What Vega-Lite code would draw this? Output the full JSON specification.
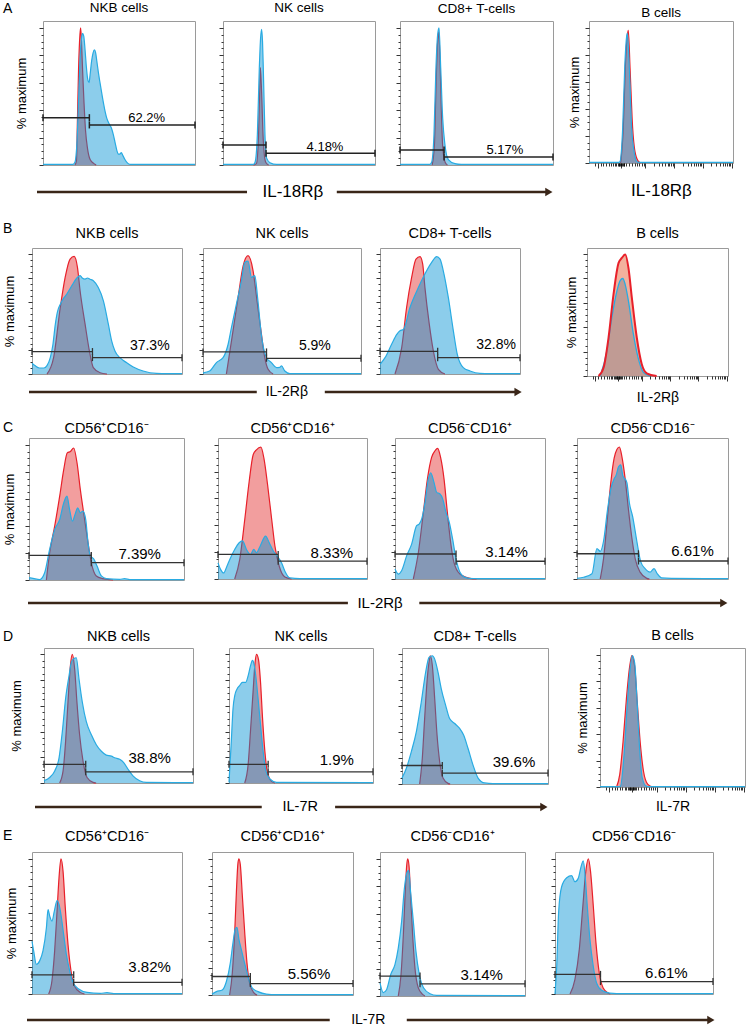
{
"$schema":"https://vega.github.io/schema/vega-lite/v6.json",
"padding":0,
"autosize":{"type":"pad"},
"background":"white",
"params":[
{"name":"xt","value":[4,6,8,10,12,14,15.5,17,18,19,20,20.5,21,21.5,22,22.5,23,23.5,24,24.5,26,28,30,32,33.5,35,36.5,38,39,45,48.5,51,53,54.6,55.9,57.1,58.1,59,65,68.5,71,73,74.6,75.9,77.1,78.1,79,85,88.5,91,93,94.6,95.9,97.1,98.1,99]},
{"name":"yt","value":[0,5,10,15,20,25,30,35,40,45,50,55,60,65,70,75,80,85,90,95,100]}
],
"spacing":0,
"bounds":"flush",
"resolve":{"scale":{"x":"independent","y":"independent"}},
"config":{
"font":"Liberation Sans",
"view":{"stroke":null},
"axis":{"labels":false,"domain":false,"grid":false,"tickColor":"#000","tickWidth":0.8,"titleFont":"Liberation Sans","titleFontWeight":"normal","titleColor":"#000","titleFontSize":13},
"axisX":{"tickSize":{"condition":{"test":"indexof([6,22,39,59,79,99], datum.value) >= 0","value":5},"value":3}},
"axisY":{"tickSize":{"condition":{"test":"datum.value % 20 === 0","value":4},"value":2}},
"title":{"fontWeight":"normal","color":"#000","baseline":"middle","frame":"group","font":"Liberation Sans"},
"text":{"font":"Liberation Sans","color":"#000"}
},
"datasets":{
"A1c":[{"x":21,"y":0},{"x":22,"y":3},{"x":22.6,"y":30},{"x":23.4,"y":70},{"x":24.3,"y":95},{"x":24.8,"y":100},{"x":25.5,"y":85},{"x":26.2,"y":65},{"x":27,"y":45},{"x":28,"y":25},{"x":29.3,"y":12},{"x":31,"y":4},{"x":33.5,"y":1},{"x":35,"y":0}],
"A1s":[{"x":0,"y":0.4},{"x":19.5,"y":0.4},{"x":21,"y":2},{"x":22.5,"y":20},{"x":23.5,"y":50},{"x":24.5,"y":80},{"x":25.3,"y":92},{"x":26,"y":96},{"x":26.8,"y":94},{"x":27.6,"y":85},{"x":28.5,"y":72},{"x":29.5,"y":62},{"x":30.3,"y":60},{"x":31,"y":66},{"x":32,"y":76},{"x":33,"y":82},{"x":33.8,"y":84},{"x":34.6,"y":82},{"x":35.5,"y":75},{"x":36.5,"y":67},{"x":37.5,"y":60},{"x":39,"y":50},{"x":40.5,"y":41},{"x":42,"y":34},{"x":43.5,"y":30},{"x":45,"y":27},{"x":46.3,"y":22},{"x":47.5,"y":16},{"x":48.5,"y":11},{"x":49.5,"y":8},{"x":50.5,"y":8},{"x":51.5,"y":9},{"x":52.5,"y":7},{"x":53.9,"y":4},{"x":55.5,"y":1.5},{"x":57.2,"y":0.4},{"x":100,"y":0.4}],
"A1g":[{"x":0,"x2":30.5,"y":34.5},{"x":30.5,"x2":100,"y":29.2}],
"A1l":[{"x":68.2,"y":34.5,"t":"62.2%"}],
"A2c":[{"x":20,"y":0},{"x":22,"y":1},{"x":23.4,"y":22},{"x":24.2,"y":57},{"x":24.6,"y":71},{"x":25.4,"y":53},{"x":26.5,"y":18},{"x":28.1,"y":2},{"x":30,"y":0}],
"A2s":[{"x":0,"y":0.4},{"x":20,"y":0.4},{"x":21.1,"y":2},{"x":22.6,"y":22},{"x":23.9,"y":71},{"x":24.7,"y":92},{"x":25.4,"y":99},{"x":26,"y":90},{"x":26.5,"y":71},{"x":27.6,"y":22},{"x":28.7,"y":5},{"x":30.9,"y":1.7},{"x":35.3,"y":0.4},{"x":100,"y":0.4}],
"A2g":[{"x":0,"x2":28.3,"y":14.6},{"x":28.3,"x2":100,"y":8.5}],
"A2l":[{"x":67.1,"y":13,"t":"4.18%"}],
"A3c":[{"x":21,"y":0},{"x":22.5,"y":15},{"x":23.6,"y":60},{"x":24.6,"y":90},{"x":25.3,"y":97},{"x":26.2,"y":75},{"x":27,"y":40},{"x":28,"y":12},{"x":29.5,"y":2},{"x":31,"y":0}],
"A3s":[{"x":0,"y":0.4},{"x":19.5,"y":0.4},{"x":20.7,"y":2},{"x":22.2,"y":22},{"x":23.5,"y":71},{"x":24.6,"y":95},{"x":25.5,"y":100},{"x":26.6,"y":71},{"x":27.9,"y":34},{"x":29.4,"y":14.6},{"x":31.6,"y":4},{"x":35.9,"y":1},{"x":40,"y":0.4},{"x":100,"y":0.4}],
"A3g":[{"x":0,"x2":28.8,"y":10.9},{"x":28.8,"x2":100,"y":5.8}],
"A3l":[{"x":68.6,"y":11,"t":"5.17%"}],
"A4c":[{"x":22,"y":0},{"x":23.8,"y":26},{"x":25.2,"y":70.5},{"x":26.6,"y":94},{"x":27.3,"y":98},{"x":28.5,"y":70.5},{"x":30.3,"y":26},{"x":31.9,"y":8.6},{"x":34.3,"y":1.2},{"x":36,"y":0}],
"A4s":[{"x":0,"y":0.4},{"x":20.5,"y":0.4},{"x":21.5,"y":1},{"x":23.4,"y":26},{"x":24.8,"y":70.5},{"x":26.2,"y":94},{"x":26.6,"y":96},{"x":28,"y":70.5},{"x":29.6,"y":26},{"x":31.3,"y":8.6},{"x":33.1,"y":1.2},{"x":35,"y":0.4},{"x":100,"y":0.4}],
"B1c":[{"x":10,"y":0},{"x":14.4,"y":13.6},{"x":18.8,"y":55},{"x":22.1,"y":80.5},{"x":25.4,"y":95.8},{"x":28.1,"y":98},{"x":30.3,"y":88.9},{"x":32.1,"y":69},{"x":35.4,"y":41.5},{"x":38.3,"y":19},{"x":40.9,"y":5.3},{"x":45.4,"y":1},{"x":50,"y":0}],
"B1s":[{"x":0,"y":9},{"x":2,"y":7},{"x":5,"y":5},{"x":8,"y":5},{"x":10,"y":7},{"x":12.2,"y":13.6},{"x":14,"y":25},{"x":15.5,"y":41},{"x":17,"y":52},{"x":18.8,"y":58},{"x":21,"y":63},{"x":23.2,"y":66.6},{"x":26.5,"y":73.5},{"x":29.9,"y":80},{"x":32.1,"y":82},{"x":33.5,"y":80},{"x":35.4,"y":79},{"x":37,"y":80},{"x":38.7,"y":79},{"x":40.9,"y":77.7},{"x":44.2,"y":72},{"x":47.6,"y":61},{"x":50.9,"y":41.5},{"x":53.1,"y":27.6},{"x":55.3,"y":19.2},{"x":58.6,"y":13.6},{"x":63,"y":9.5},{"x":67.5,"y":5.8},{"x":74.1,"y":2.5},{"x":83,"y":0.5},{"x":90,"y":0.3},{"x":100,"y":0.3}],
"B1g":[{"x":0,"x2":40.3,"y":18.7},{"x":40.3,"x2":100,"y":13.6}],
"B1l":[{"x":78.5,"y":23.4,"t":"37.3%"}],
"B2c":[{"x":14.8,"y":0},{"x":19,"y":36},{"x":22.2,"y":63.8},{"x":25.4,"y":90},{"x":28.5,"y":98.6},{"x":31.7,"y":86},{"x":34.2,"y":61},{"x":37,"y":33},{"x":39.1,"y":13.6},{"x":41.2,"y":3.9},{"x":44.4,"y":0}],
"B2s":[{"x":0,"y":1},{"x":4.2,"y":2.5},{"x":8.5,"y":9.5},{"x":12.7,"y":13.6},{"x":15.9,"y":24.8},{"x":18,"y":38.7},{"x":21.1,"y":58},{"x":24.3,"y":77.7},{"x":26.4,"y":93},{"x":28.5,"y":94},{"x":30.7,"y":80.5},{"x":32.8,"y":82},{"x":34.6,"y":63},{"x":37,"y":32},{"x":40.2,"y":13.6},{"x":43.3,"y":9.5},{"x":46.5,"y":5.3},{"x":48.5,"y":5.5},{"x":49.7,"y":6.7},{"x":51.8,"y":2.5},{"x":55,"y":0.3},{"x":100,"y":0.3}],
"B2g":[{"x":0,"x2":40.2,"y":18.4},{"x":40.2,"x2":100,"y":13.1}],
"B2l":[{"x":70.8,"y":23.4,"t":"5.9%"}],
"B3c":[{"x":10.7,"y":0},{"x":15.5,"y":22},{"x":19,"y":55.4},{"x":22.6,"y":80.5},{"x":25.7,"y":95.8},{"x":28.6,"y":97.8},{"x":30.5,"y":91.6},{"x":32.1,"y":72},{"x":35.2,"y":41.5},{"x":38.1,"y":19.2},{"x":41.7,"y":3.9},{"x":46.4,"y":0}],
"B3s":[{"x":0,"y":8},{"x":3.6,"y":13.6},{"x":8.3,"y":24.8},{"x":12,"y":33},{"x":14.3,"y":36},{"x":16.7,"y":37},{"x":21.4,"y":55.4},{"x":27.4,"y":72},{"x":33.3,"y":86},{"x":36.9,"y":93},{"x":40.5,"y":97.8},{"x":42.9,"y":95.8},{"x":45.2,"y":86},{"x":48.8,"y":63.8},{"x":52.4,"y":36},{"x":55.2,"y":16.4},{"x":59.5,"y":5.3},{"x":64.3,"y":2.5},{"x":71.4,"y":0.5},{"x":78.6,"y":0.3},{"x":100,"y":0.3}],
"B3g":[{"x":0,"x2":41.2,"y":18.9},{"x":41.2,"x2":100,"y":13.6}],
"B3l":[{"x":82.9,"y":24,"t":"32.8%"}],
"B4c":[{"x":8.2,"y":0},{"x":11.8,"y":7},{"x":15.3,"y":31.6},{"x":18.8,"y":67},{"x":22.4,"y":92.8},{"x":24.7,"y":96.8},{"x":27.1,"y":99.6},{"x":29.4,"y":88.7},{"x":31.8,"y":64.2},{"x":35.3,"y":31.6},{"x":38.8,"y":9.8},{"x":42.4,"y":2.2},{"x":49.4,"y":0}],
"B4s":[{"x":9.4,"y":0},{"x":14.1,"y":20.7},{"x":17.6,"y":47.9},{"x":21.2,"y":69.6},{"x":23.5,"y":78.3},{"x":25.4,"y":80},{"x":27.1,"y":75},{"x":29.4,"y":61.5},{"x":32.9,"y":34.3},{"x":36.5,"y":13.9},{"x":40,"y":3},{"x":44.7,"y":0}],
"C1c":[{"x":11.2,"y":0},{"x":13.3,"y":20},{"x":16.6,"y":40},{"x":19.8,"y":62},{"x":22.4,"y":81.6},{"x":24.7,"y":94},{"x":26.7,"y":95},{"x":28.8,"y":97.6},{"x":31,"y":86.5},{"x":33.1,"y":67},{"x":35.9,"y":44.7},{"x":38.1,"y":27.5},{"x":40.2,"y":12.8},{"x":43.4,"y":3},{"x":47.7,"y":1},{"x":54.2,"y":0}],
"C1s":[{"x":0,"y":1.7},{"x":2.6,"y":1.2},{"x":6.9,"y":0.3},{"x":10.1,"y":5.4},{"x":13.3,"y":22.6},{"x":16.6,"y":37.4},{"x":19.8,"y":44.7},{"x":22.4,"y":57},{"x":24.5,"y":62},{"x":26.2,"y":52},{"x":28,"y":43.5},{"x":29.7,"y":48.4},{"x":31.4,"y":53.4},{"x":33.1,"y":49.7},{"x":34.8,"y":51},{"x":36.6,"y":44.7},{"x":38.1,"y":27.5},{"x":39.6,"y":17.7},{"x":41.7,"y":15.7},{"x":43.9,"y":10.3},{"x":46.7,"y":3},{"x":49.9,"y":1},{"x":58.5,"y":0.5},{"x":61.7,"y":1},{"x":65,"y":0.3},{"x":100,"y":0.3}],
"C1g":[{"x":0,"x2":40.2,"y":18.2},{"x":40.2,"x2":100,"y":12.8}],
"C1l":[{"x":71.4,"y":19,"t":"7.39%"}],
"C2c":[{"x":11.2,"y":0},{"x":14.6,"y":14.6},{"x":18,"y":44.7},{"x":20.9,"y":72.4},{"x":23.6,"y":92.5},{"x":25.8,"y":96.2},{"x":28.8,"y":98.2},{"x":30.8,"y":90},{"x":33.3,"y":70},{"x":36,"y":44.7},{"x":38.2,"y":24.6},{"x":41.1,"y":9.5},{"x":44.9,"y":1.5},{"x":49.4,"y":0}],
"C2s":[{"x":0,"y":12},{"x":1.8,"y":7},{"x":3.8,"y":4.5},{"x":5.8,"y":9},{"x":7.9,"y":14.6},{"x":11.2,"y":22},{"x":14.2,"y":27},{"x":16.4,"y":28.4},{"x":19.1,"y":22},{"x":21.8,"y":18.3},{"x":24,"y":22},{"x":25.8,"y":19.6},{"x":28.5,"y":25},{"x":31.9,"y":32},{"x":34.4,"y":27},{"x":37.1,"y":20.9},{"x":39.8,"y":17},{"x":42.7,"y":12},{"x":44.9,"y":5.8},{"x":48.3,"y":0.8},{"x":55,"y":0.3},{"x":100,"y":0.3}],
"C2g":[{"x":0,"x2":40.4,"y":18.3},{"x":40.4,"x2":100,"y":13.3}],
"C2l":[{"x":76.4,"y":19.6,"t":"8.33%"}],
"C3c":[{"x":12.2,"y":0},{"x":15.6,"y":19.9},{"x":18.9,"y":49.6},{"x":21.6,"y":74.4},{"x":24.4,"y":90.6},{"x":26.7,"y":95.5},{"x":28.4,"y":97.3},{"x":30.4,"y":90.6},{"x":32.7,"y":74.4},{"x":34.9,"y":49.6},{"x":37.1,"y":27.3},{"x":39.3,"y":12.4},{"x":43.3,"y":3.7},{"x":50,"y":0.5},{"x":54.4,"y":0}],
"C3s":[{"x":0,"y":7.4},{"x":2.2,"y":3.7},{"x":4.4,"y":6.2},{"x":7.8,"y":17.4},{"x":11.1,"y":26},{"x":14.4,"y":39.7},{"x":16.2,"y":41},{"x":17.8,"y":44.7},{"x":20,"y":57},{"x":22.2,"y":74.4},{"x":23.8,"y":79},{"x":26,"y":72},{"x":27.8,"y":64.5},{"x":30,"y":63.3},{"x":31.8,"y":59.6},{"x":34,"y":49.6},{"x":36.2,"y":42.2},{"x":38.4,"y":29.8},{"x":40.7,"y":14.9},{"x":43.3,"y":5},{"x":46.7,"y":1.2},{"x":52.2,"y":0.3},{"x":100,"y":0.3}],
"C3g":[{"x":0,"x2":40.7,"y":18.6},{"x":40.7,"x2":100,"y":13.2}],
"C3l":[{"x":74.4,"y":19.9,"t":"3.14%"}],
"C4c":[{"x":15.4,"y":0},{"x":17.6,"y":15.4},{"x":20.2,"y":46.3},{"x":22.4,"y":72},{"x":24.6,"y":90},{"x":26.4,"y":96.5},{"x":28.1,"y":98.3},{"x":29.7,"y":91.4},{"x":31.9,"y":74.6},{"x":34.1,"y":51.5},{"x":36.3,"y":30.9},{"x":38.5,"y":15.4},{"x":41.8,"y":5.1},{"x":46.2,"y":0.5},{"x":48,"y":0}],
"C4s":[{"x":0,"y":0.5},{"x":4.4,"y":1.3},{"x":9.9,"y":3.9},{"x":13.2,"y":22.6},{"x":15.4,"y":20.6},{"x":17.6,"y":28.3},{"x":20.2,"y":51.5},{"x":22.4,"y":67},{"x":24.6,"y":74.6},{"x":25.9,"y":77.2},{"x":27.5,"y":83.6},{"x":29,"y":85},{"x":30.3,"y":77.2},{"x":33,"y":72},{"x":34.7,"y":56.6},{"x":36.9,"y":46.3},{"x":39.6,"y":28.3},{"x":42.2,"y":12.9},{"x":45.1,"y":7.7},{"x":48.4,"y":5.1},{"x":51,"y":7.7},{"x":53.2,"y":3.9},{"x":56,"y":0.8},{"x":62.6,"y":0.5},{"x":100,"y":0.3}],
"C4g":[{"x":0,"x2":40.7,"y":18.8},{"x":40.7,"x2":100,"y":13.4}],
"C4l":[{"x":76.5,"y":20.6,"t":"6.61%"}],
"D1c":[{"x":10.5,"y":0},{"x":12.8,"y":9.4},{"x":14.5,"y":32.4},{"x":16.1,"y":63},{"x":17.7,"y":91},{"x":19,"y":100},{"x":20.6,"y":88.5},{"x":22.1,"y":63},{"x":23.9,"y":37.5},{"x":26.2,"y":17},{"x":28.9,"y":4.3},{"x":32.9,"y":0.5},{"x":35,"y":0}],
"D1s":[{"x":0,"y":1.8},{"x":3.8,"y":4.3},{"x":7.2,"y":9.4},{"x":10.1,"y":19.6},{"x":12.3,"y":40},{"x":14.5,"y":65.6},{"x":16.8,"y":83.4},{"x":18.3,"y":93.6},{"x":19.9,"y":96.7},{"x":21.7,"y":97.4},{"x":23.5,"y":80.9},{"x":25.7,"y":63},{"x":28.4,"y":47.7},{"x":31.8,"y":37.5},{"x":35.1,"y":29.8},{"x":38.5,"y":24.7},{"x":41.8,"y":21.7},{"x":45.2,"y":20.9},{"x":47.4,"y":19.6},{"x":50.8,"y":18.4},{"x":53.5,"y":15.8},{"x":56.4,"y":10.7},{"x":59.7,"y":5.6},{"x":64.2,"y":1.8},{"x":68.7,"y":0.5},{"x":100,"y":0.3}],
"D1g":[{"x":0,"x2":28,"y":14.5},{"x":28,"x2":100,"y":8.7}],
"D1l":[{"x":70.9,"y":19.6,"t":"38.8%"}],
"D2c":[{"x":10.9,"y":0},{"x":13.3,"y":14.5},{"x":14.9,"y":40},{"x":16.7,"y":70.7},{"x":18.1,"y":93.6},{"x":19.1,"y":100},{"x":20.5,"y":96},{"x":21.9,"y":78.3},{"x":23.3,"y":50.3},{"x":24.9,"y":24.7},{"x":26.7,"y":8.2},{"x":29.5,"y":1.3},{"x":32,"y":0}],
"D2s":[{"x":0,"y":0.5},{"x":1.6,"y":32.4},{"x":2.8,"y":58},{"x":4,"y":68},{"x":5.6,"y":73.2},{"x":7.4,"y":75.8},{"x":9.3,"y":78.3},{"x":11.6,"y":78.3},{"x":13.3,"y":83.4},{"x":14.9,"y":91},{"x":16.3,"y":95.4},{"x":17.4,"y":92.3},{"x":18.6,"y":83.4},{"x":20.2,"y":65.6},{"x":21.9,"y":45.2},{"x":23.7,"y":24.7},{"x":25.6,"y":9.4},{"x":28.4,"y":3.1},{"x":33,"y":0.5},{"x":100,"y":0.3}],
"D2g":[{"x":0,"x2":27.2,"y":14.5},{"x":27.2,"x2":100,"y":8.7}],
"D2l":[{"x":74.9,"y":17.9,"t":"1.9%"}],
"D3c":[{"x":12.1,"y":0},{"x":13.9,"y":19.9},{"x":15.5,"y":50.5},{"x":17.1,"y":78.6},{"x":18.5,"y":93.9},{"x":19.4,"y":99},{"x":20.8,"y":91.3},{"x":22.4,"y":65.8},{"x":24,"y":37.8},{"x":25.8,"y":17.3},{"x":28.1,"y":4.6},{"x":31.5,"y":0.5},{"x":33,"y":0}],
"D3s":[{"x":0,"y":4.6},{"x":3,"y":12.2},{"x":6.4,"y":25},{"x":9.8,"y":40.3},{"x":13.2,"y":63.3},{"x":16.2,"y":86.2},{"x":18.5,"y":97.7},{"x":20.8,"y":99},{"x":22.4,"y":96.4},{"x":24.7,"y":86.2},{"x":26.9,"y":73.5},{"x":29.9,"y":60.7},{"x":32.6,"y":50.5},{"x":36.1,"y":46.7},{"x":39.5,"y":42.9},{"x":42.2,"y":37.8},{"x":45.2,"y":27.6},{"x":48.6,"y":14.8},{"x":52.1,"y":4.6},{"x":56.6,"y":0.8},{"x":62.3,"y":0.3},{"x":100,"y":0.3}],
"D3g":[{"x":0,"x2":27.6,"y":14.3},{"x":27.6,"x2":100,"y":8.4}],
"D3l":[{"x":76.7,"y":17.3,"t":"39.6%"}],
"D4c":[{"x":11.4,"y":0},{"x":13.6,"y":9.4},{"x":15.9,"y":34.2},{"x":18.2,"y":66.5},{"x":20.5,"y":91.3},{"x":22,"y":99.3},{"x":23.9,"y":91.3},{"x":25.7,"y":64},{"x":27.7,"y":34.2},{"x":30,"y":11.9},{"x":33,"y":2},{"x":36.4,"y":0}],
"D4s":[{"x":0,"y":0.3},{"x":13,"y":0.3},{"x":14.1,"y":0.6},{"x":16.4,"y":21.8},{"x":18.6,"y":59},{"x":20.5,"y":86.4},{"x":22.3,"y":99.3},{"x":23.9,"y":93.8},{"x":25.5,"y":66.5},{"x":27.3,"y":29.3},{"x":29.1,"y":7},{"x":31.8,"y":0.7},{"x":34,"y":0.3},{"x":100,"y":0.3}],
"E1c":[{"x":11.1,"y":0},{"x":13.3,"y":9.8},{"x":15.1,"y":31.9},{"x":16.7,"y":61.3},{"x":18,"y":85.8},{"x":19.3,"y":100},{"x":20.7,"y":90.7},{"x":22.2,"y":63.7},{"x":24,"y":36.8},{"x":26,"y":17.2},{"x":28.2,"y":6.1},{"x":32.2,"y":1.2},{"x":35,"y":0}],
"E1s":[{"x":0,"y":39},{"x":1.1,"y":31.9},{"x":2.9,"y":22},{"x":5.1,"y":24.5},{"x":7.3,"y":31.9},{"x":9.6,"y":49},{"x":10.7,"y":62.5},{"x":11.8,"y":57.6},{"x":13.3,"y":53.9},{"x":14.9,"y":61.3},{"x":16.7,"y":69.1},{"x":18,"y":66.2},{"x":19.3,"y":58.8},{"x":21.1,"y":44.1},{"x":22.9,"y":29.4},{"x":25.1,"y":17.2},{"x":27.3,"y":8.6},{"x":31.1,"y":3.7},{"x":36.7,"y":1.2},{"x":45.6,"y":0.5},{"x":50,"y":1},{"x":54.4,"y":0.3},{"x":100,"y":0.3}],
"E1g":[{"x":0,"x2":27.8,"y":14.2},{"x":27.8,"x2":100,"y":8.6}],
"E1l":[{"x":78.4,"y":19.6,"t":"3.82%"}],
"E2c":[{"x":12.5,"y":0},{"x":14.4,"y":16.1},{"x":16.1,"y":45.9},{"x":17.3,"y":75.7},{"x":18.4,"y":96.8},{"x":19.1,"y":100},{"x":20.1,"y":95.5},{"x":21.5,"y":73.2},{"x":23.2,"y":45.9},{"x":24.8,"y":23.6},{"x":26.7,"y":8.7},{"x":29.6,"y":1.7},{"x":32,"y":0}],
"E2s":[{"x":0,"y":0.7},{"x":3.1,"y":2.5},{"x":7.3,"y":3.7},{"x":10.2,"y":9.9},{"x":13,"y":23.6},{"x":14.9,"y":38.5},{"x":16.5,"y":48.4},{"x":17.7,"y":49.6},{"x":19.1,"y":40.9},{"x":20.8,"y":33.5},{"x":22.5,"y":26},{"x":24.3,"y":18.6},{"x":26.2,"y":11.2},{"x":28.6,"y":5},{"x":32.6,"y":2.5},{"x":38.5,"y":0.7},{"x":45.6,"y":0.3},{"x":100,"y":0.3}],
"E2g":[{"x":0,"x2":27.2,"y":13.6},{"x":27.2,"x2":100,"y":8.4}],
"E2l":[{"x":68.8,"y":15.6,"t":"5.56%"}],
"E3c":[{"x":12.6,"y":0},{"x":14.5,"y":15.7},{"x":16.1,"y":44.6},{"x":17.5,"y":78.3},{"x":18.4,"y":95.2},{"x":19.1,"y":100},{"x":20,"y":95.2},{"x":21.1,"y":73.5},{"x":22.5,"y":44.6},{"x":24.1,"y":20.5},{"x":26.4,"y":6},{"x":29.4,"y":1.2},{"x":31,"y":0}],
"E3s":[{"x":0,"y":9.6},{"x":2.3,"y":2.4},{"x":4.6,"y":4.8},{"x":7.4,"y":15.7},{"x":10.3,"y":22.9},{"x":12.6,"y":34.9},{"x":14.9,"y":54.2},{"x":16.8,"y":78.3},{"x":18.4,"y":89.2},{"x":19.8,"y":91.6},{"x":21.1,"y":75.9},{"x":23,"y":54.2},{"x":24.8,"y":32.5},{"x":27.1,"y":15.7},{"x":30,"y":6},{"x":34.5,"y":1.7},{"x":39.1,"y":0.5},{"x":100,"y":0.3}],
"E3g":[{"x":0,"x2":27.6,"y":14.5},{"x":27.6,"x2":100,"y":8.9}],
"E3l":[{"x":70.1,"y":15.2,"t":"3.14%"}],
"E4c":[{"x":9.5,"y":0},{"x":12.6,"y":10.7},{"x":15.4,"y":33.2},{"x":17.5,"y":63.1},{"x":19.6,"y":91.8},{"x":21.1,"y":100},{"x":22.5,"y":90.5},{"x":24.2,"y":65.6},{"x":25.9,"y":38.2},{"x":28,"y":15.7},{"x":30.5,"y":4.5},{"x":33.7,"y":0.7},{"x":35,"y":0}],
"E4s":[{"x":0,"y":0},{"x":1.1,"y":20.7},{"x":2.3,"y":60.6},{"x":4.2,"y":79.3},{"x":7.4,"y":86},{"x":10.5,"y":87.5},{"x":12.6,"y":83},{"x":14.7,"y":85.5},{"x":16.8,"y":95.5},{"x":17.9,"y":98.5},{"x":19.2,"y":85.5},{"x":20.4,"y":65.6},{"x":22.1,"y":40.6},{"x":24.2,"y":20.7},{"x":26.3,"y":8.2},{"x":29.5,"y":2.7},{"x":34.7,"y":0.7},{"x":43.2,"y":0.3},{"x":100,"y":0.3}],
"E4g":[{"x":0,"x2":28.8,"y":14.5},{"x":28.8,"x2":100,"y":9.2}],
"E4l":[{"x":70.5,"y":15.2,"t":"6.61%"}]
},
"vconcat":[
{"width":1,"height":20,"data":{"values":[]},"mark":"point"},
{"hconcat":[
{"width":43,"height":1,"data":{"values":[]},"mark":"point","title":{"text":"A","anchor":"start","fontSize":14,"offset":5,"dx":3}},
{"width":152,"height":144,"view":{"stroke":"#9a9a9a"},"title":{"text":"NKB cells","fontSize":13.5,"offset":6.3},
"encoding":{"x":{"field":"x","type":"quantitative","scale":{"domain":[0,100],"nice":false,"zero":false},"axis":{"values":{"expr":"xt"},"title":null}},"y":{"field":"y","type":"quantitative","scale":{"domain":[0,105],"nice":false},"axis":{"values":{"expr":"yt"},"title":"% maximum","titlePadding":10.5}}},
"layer":[
{"data":{"name":"A1c"},"mark":{"type":"area","color":"#f29e9e","opacity":1,"interpolate":"monotone"}},
{"data":{"name":"A1c"},"mark":{"type":"line","color":"#e8202a","strokeWidth":1.2,"interpolate":"monotone"}},
{"data":{"name":"A1s"},"mark":{"type":"area","color":"#0090d3","opacity":0.45,"interpolate":"monotone"}},
{"data":{"name":"A1s"},"mark":{"type":"line","color":"#29abe2","strokeWidth":1.2,"interpolate":"monotone"}},
{"data":{"name":"A1g"},"mark":{"type":"rule","color":"#222","strokeWidth":1.5},"encoding":{"x2":{"field":"x2"}}},
{"data":{"name":"A1g"},"mark":{"type":"tick","orient":"vertical","color":"#222","size":7,"thickness":1.5,"opacity":1}},
{"data":{"name":"A1g"},"mark":{"type":"tick","orient":"vertical","color":"#222","size":7,"thickness":1.5,"opacity":1},"encoding":{"x":{"field":"x2","type":"quantitative","scale":{"domain":[0,100],"nice":false,"zero":false},"axis":null}}},
{"data":{"name":"A1l"},"mark":{"type":"text","fontSize":13},"encoding":{"text":{"field":"t"}}}
]},
{"width":28,"height":1,"data":{"values":[]},"mark":"point"},
{"width":152,"height":144,"view":{"stroke":"#9a9a9a"},"title":{"text":"NK cells","fontSize":13.5,"offset":6.3},
"encoding":{"x":{"field":"x","type":"quantitative","scale":{"domain":[0,100],"nice":false,"zero":false},"axis":{"values":{"expr":"xt"},"title":null}},"y":{"field":"y","type":"quantitative","scale":{"domain":[0,105],"nice":false},"axis":{"values":{"expr":"yt"},"title":null}}},
"layer":[
{"data":{"name":"A2c"},"mark":{"type":"area","color":"#f29e9e","opacity":1,"interpolate":"monotone"}},
{"data":{"name":"A2c"},"mark":{"type":"line","color":"#e8202a","strokeWidth":1.2,"interpolate":"monotone"}},
{"data":{"name":"A2s"},"mark":{"type":"area","color":"#0090d3","opacity":0.45,"interpolate":"monotone"}},
{"data":{"name":"A2s"},"mark":{"type":"line","color":"#29abe2","strokeWidth":1.2,"interpolate":"monotone"}},
{"data":{"name":"A2g"},"mark":{"type":"rule","color":"#222","strokeWidth":1.5},"encoding":{"x2":{"field":"x2"}}},
{"data":{"name":"A2g"},"mark":{"type":"tick","orient":"vertical","color":"#222","size":7,"thickness":1.5,"opacity":1}},
{"data":{"name":"A2g"},"mark":{"type":"tick","orient":"vertical","color":"#222","size":7,"thickness":1.5,"opacity":1},"encoding":{"x":{"field":"x2","type":"quantitative","scale":{"domain":[0,100],"nice":false,"zero":false},"axis":null}}},
{"data":{"name":"A2l"},"mark":{"type":"text","fontSize":13},"encoding":{"text":{"field":"t"}}}
]},
{"width":25,"height":1,"data":{"values":[]},"mark":"point"},
{"width":153,"height":144,"view":{"stroke":"#9a9a9a"},"title":{"text":"CD8+ T-cells","fontSize":13.5,"offset":6},
"encoding":{"x":{"field":"x","type":"quantitative","scale":{"domain":[0,100],"nice":false,"zero":false},"axis":{"values":{"expr":"xt"},"title":null}},"y":{"field":"y","type":"quantitative","scale":{"domain":[0,105],"nice":false},"axis":{"values":{"expr":"yt"},"title":null}}},
"layer":[
{"data":{"name":"A3c"},"mark":{"type":"area","color":"#f29e9e","opacity":1,"interpolate":"monotone"}},
{"data":{"name":"A3c"},"mark":{"type":"line","color":"#e8202a","strokeWidth":1.2,"interpolate":"monotone"}},
{"data":{"name":"A3s"},"mark":{"type":"area","color":"#0090d3","opacity":0.45,"interpolate":"monotone"}},
{"data":{"name":"A3s"},"mark":{"type":"line","color":"#29abe2","strokeWidth":1.2,"interpolate":"monotone"}},
{"data":{"name":"A3g"},"mark":{"type":"rule","color":"#222","strokeWidth":1.5},"encoding":{"x2":{"field":"x2"}}},
{"data":{"name":"A3g"},"mark":{"type":"tick","orient":"vertical","color":"#222","size":7,"thickness":1.5,"opacity":1}},
{"data":{"name":"A3g"},"mark":{"type":"tick","orient":"vertical","color":"#222","size":7,"thickness":1.5,"opacity":1},"encoding":{"x":{"field":"x2","type":"quantitative","scale":{"domain":[0,100],"nice":false,"zero":false},"axis":null}}},
{"data":{"name":"A3l"},"mark":{"type":"text","fontSize":13},"encoding":{"text":{"field":"t"}}}
]},
{"width":36,"height":1,"data":{"values":[]},"mark":"point"},
{"width":144,"height":142,"view":{"stroke":"#9a9a9a"},"title":{"text":"B cells","fontSize":13.5,"offset":1.8},
"encoding":{"x":{"field":"x","type":"quantitative","scale":{"domain":[0,100],"nice":false,"zero":false},"axis":{"values":{"expr":"xt"},"title":"IL-18Rβ","titleFontSize":17,"titlePadding":14}},"y":{"field":"y","type":"quantitative","scale":{"domain":[0,105],"nice":false},"axis":{"values":{"expr":"yt"},"title":"% maximum","titlePadding":3.5}}},
"layer":[
{"data":{"name":"A4c"},"mark":{"type":"area","color":"#f29e9e","opacity":1,"interpolate":"monotone"}},
{"data":{"name":"A4c"},"mark":{"type":"line","color":"#e8202a","strokeWidth":1.2,"interpolate":"monotone"}},
{"data":{"name":"A4s"},"mark":{"type":"area","color":"#0090d3","opacity":0.45,"interpolate":"monotone"}},
{"data":{"name":"A4s"},"mark":{"type":"line","color":"#29abe2","strokeWidth":1.2,"interpolate":"monotone"}}
]}
],"spacing":0,"bounds":"flush","resolve":{"scale":{"x":"independent","y":"independent"}}},
{"width":1,"height":144,"data":{"values":[]},"mark":"point"},
{"hconcat":[
{"width":37,"height":1,"data":{"values":[]},"mark":"point"},
{"width":516,"height":27,"data":{"values":[{"t":"IL-18Rβ"}]},
"encoding":{"y":{"datum":0,"type":"quantitative","scale":{"domain":[0,1]},"axis":null}},
"layer":[
{"mark":{"type":"rule","color":"#3a2618","strokeWidth":2.5},"encoding":{"x":{"datum":0,"type":"quantitative","scale":{"domain":[0,100],"nice":false},"axis":null},"x2":{"datum":40.7}}},
{"mark":{"type":"rule","color":"#3a2618","strokeWidth":2.5},"encoding":{"x":{"datum":58.1,"type":"quantitative","scale":{"domain":[0,100],"nice":false},"axis":null},"x2":{"datum":98.8}}},
{"mark":{"type":"point","shape":"triangle-right","filled":true,"color":"#3a2618","size":70,"opacity":1},"encoding":{"x":{"datum":99.2,"type":"quantitative","scale":{"domain":[0,100],"nice":false},"axis":null}}},
{"mark":{"type":"text","fontSize":17},"encoding":{"x":{"datum":49.6,"type":"quantitative","scale":{"domain":[0,100],"nice":false},"axis":null},"text":{"field":"t"}}}
]}
],"spacing":0,"bounds":"flush"},
{"width":1,"height":83,"data":{"values":[]},"mark":"point"},
{"hconcat":[
{"width":32,"height":1,"data":{"values":[]},"mark":"point","title":{"text":"B","anchor":"start","fontSize":14,"offset":12,"dx":3}},
{"width":150,"height":126,"view":{"stroke":"#9a9a9a"},"title":{"text":"NKB cells","fontSize":14.5,"offset":6.8},
"encoding":{"x":{"field":"x","type":"quantitative","scale":{"domain":[0,100],"nice":false,"zero":false},"axis":{"values":{"expr":"xt"},"title":null}},"y":{"field":"y","type":"quantitative","scale":{"domain":[0,105],"nice":false},"axis":{"values":{"expr":"yt"},"title":"% maximum","titlePadding":11.5}}},
"layer":[
{"data":{"name":"B1c"},"mark":{"type":"area","color":"#f29e9e","opacity":1,"interpolate":"monotone"}},
{"data":{"name":"B1c"},"mark":{"type":"line","color":"#e8202a","strokeWidth":1.2,"interpolate":"monotone"}},
{"data":{"name":"B1s"},"mark":{"type":"area","color":"#0090d3","opacity":0.45,"interpolate":"monotone"}},
{"data":{"name":"B1s"},"mark":{"type":"line","color":"#29abe2","strokeWidth":1.2,"interpolate":"monotone"}},
{"data":{"name":"B1g"},"mark":{"type":"rule","color":"#333","strokeWidth":1.3},"encoding":{"x2":{"field":"x2"}}},
{"data":{"name":"B1g"},"mark":{"type":"tick","orient":"vertical","color":"#333","size":7,"thickness":1.3,"opacity":1}},
{"data":{"name":"B1g"},"mark":{"type":"tick","orient":"vertical","color":"#333","size":7,"thickness":1.3,"opacity":1},"encoding":{"x":{"field":"x2","type":"quantitative","scale":{"domain":[0,100],"nice":false,"zero":false},"axis":null}}},
{"data":{"name":"B1l"},"mark":{"type":"text","fontSize":14},"encoding":{"text":{"field":"t"}}}
]},
{"width":21,"height":1,"data":{"values":[]},"mark":"point"},
{"width":158,"height":126,"view":{"stroke":"#9a9a9a"},"title":{"text":"NK cells","fontSize":14.5,"offset":6.8},
"encoding":{"x":{"field":"x","type":"quantitative","scale":{"domain":[0,100],"nice":false,"zero":false},"axis":{"values":{"expr":"xt"},"title":null}},"y":{"field":"y","type":"quantitative","scale":{"domain":[0,105],"nice":false},"axis":{"values":{"expr":"yt"},"title":null}}},
"layer":[
{"data":{"name":"B2c"},"mark":{"type":"area","color":"#f29e9e","opacity":1,"interpolate":"monotone"}},
{"data":{"name":"B2c"},"mark":{"type":"line","color":"#e8202a","strokeWidth":1.2,"interpolate":"monotone"}},
{"data":{"name":"B2s"},"mark":{"type":"area","color":"#0090d3","opacity":0.45,"interpolate":"monotone"}},
{"data":{"name":"B2s"},"mark":{"type":"line","color":"#29abe2","strokeWidth":1.2,"interpolate":"monotone"}},
{"data":{"name":"B2g"},"mark":{"type":"rule","color":"#333","strokeWidth":1.3},"encoding":{"x2":{"field":"x2"}}},
{"data":{"name":"B2g"},"mark":{"type":"tick","orient":"vertical","color":"#333","size":7,"thickness":1.3,"opacity":1}},
{"data":{"name":"B2g"},"mark":{"type":"tick","orient":"vertical","color":"#333","size":7,"thickness":1.3,"opacity":1},"encoding":{"x":{"field":"x2","type":"quantitative","scale":{"domain":[0,100],"nice":false,"zero":false},"axis":null}}},
{"data":{"name":"B2l"},"mark":{"type":"text","fontSize":14},"encoding":{"text":{"field":"t"}}}
]},
{"width":19,"height":1,"data":{"values":[]},"mark":"point"},
{"width":140,"height":126,"view":{"stroke":"#9a9a9a"},"title":{"text":"CD8+ T-cells","fontSize":14.5,"offset":6.8},
"encoding":{"x":{"field":"x","type":"quantitative","scale":{"domain":[0,100],"nice":false,"zero":false},"axis":{"values":{"expr":"xt"},"title":null}},"y":{"field":"y","type":"quantitative","scale":{"domain":[0,105],"nice":false},"axis":{"values":{"expr":"yt"},"title":null}}},
"layer":[
{"data":{"name":"B3c"},"mark":{"type":"area","color":"#f29e9e","opacity":1,"interpolate":"monotone"}},
{"data":{"name":"B3c"},"mark":{"type":"line","color":"#e8202a","strokeWidth":1.2,"interpolate":"monotone"}},
{"data":{"name":"B3s"},"mark":{"type":"area","color":"#0090d3","opacity":0.45,"interpolate":"monotone"}},
{"data":{"name":"B3s"},"mark":{"type":"line","color":"#29abe2","strokeWidth":1.2,"interpolate":"monotone"}},
{"data":{"name":"B3g"},"mark":{"type":"rule","color":"#333","strokeWidth":1.3},"encoding":{"x2":{"field":"x2"}}},
{"data":{"name":"B3g"},"mark":{"type":"tick","orient":"vertical","color":"#333","size":7,"thickness":1.3,"opacity":1}},
{"data":{"name":"B3g"},"mark":{"type":"tick","orient":"vertical","color":"#333","size":7,"thickness":1.3,"opacity":1},"encoding":{"x":{"field":"x2","type":"quantitative","scale":{"domain":[0,100],"nice":false,"zero":false},"axis":null}}},
{"data":{"name":"B3l"},"mark":{"type":"text","fontSize":14},"encoding":{"text":{"field":"t"}}}
]},
{"width":67,"height":1,"data":{"values":[]},"mark":"point"},
{"width":141,"height":128,"view":{"stroke":"#9a9a9a"},"title":{"text":"B cells","fontSize":14.5,"offset":6.8},
"encoding":{"x":{"field":"x","type":"quantitative","scale":{"domain":[0,100],"nice":false,"zero":false},"axis":{"values":{"expr":"xt"},"title":"IL-2Rβ","titleFontSize":14,"titlePadding":9}},"y":{"field":"y","type":"quantitative","scale":{"domain":[0,105],"nice":false},"axis":{"values":{"expr":"yt"},"title":"% maximum","titlePadding":4.5}}},
"layer":[
{"data":{"name":"B4s"},"mark":{"type":"area","color":"#0090d3","opacity":0.4,"interpolate":"monotone"}},
{"data":{"name":"B4c"},"mark":{"type":"area","color":"#e8643c","opacity":0.5,"interpolate":"monotone"}},
{"data":{"name":"B4s"},"mark":{"type":"line","color":"#29abe2","strokeWidth":1.3,"interpolate":"monotone"}},
{"data":{"name":"B4c"},"mark":{"type":"line","color":"#e8202a","strokeWidth":2,"interpolate":"monotone"}}
]}
],"spacing":0,"bounds":"flush","resolve":{"scale":{"x":"independent","y":"independent"}}},
{"width":1,"height":128,"data":{"values":[]},"mark":"point"},
{"hconcat":[
{"width":29,"height":1,"data":{"values":[]},"mark":"point"},
{"width":493,"height":16,"data":{"values":[{"t":"IL-2Rβ"}]},
"encoding":{"y":{"datum":0,"type":"quantitative","scale":{"domain":[0,1]},"axis":null}},
"layer":[
{"mark":{"type":"rule","color":"#3a2618","strokeWidth":2.5},"encoding":{"x":{"datum":0,"type":"quantitative","scale":{"domain":[0,100],"nice":false},"axis":null},"x2":{"datum":46.2}}},
{"mark":{"type":"rule","color":"#3a2618","strokeWidth":2.5},"encoding":{"x":{"datum":60,"type":"quantitative","scale":{"domain":[0,100],"nice":false},"axis":null},"x2":{"datum":98.8}}},
{"mark":{"type":"point","shape":"triangle-right","filled":true,"color":"#3a2618","size":70,"opacity":1},"encoding":{"x":{"datum":99.2,"type":"quantitative","scale":{"domain":[0,100],"nice":false},"axis":null}}},
{"mark":{"type":"text","fontSize":14},"encoding":{"x":{"datum":52.3,"type":"quantitative","scale":{"domain":[0,100],"nice":false},"axis":null},"text":{"field":"t"}}}
]}
],"spacing":0,"bounds":"flush"},
{"width":1,"height":62,"data":{"values":[]},"mark":"point"},
{"hconcat":[
{"width":29,"height":1,"data":{"values":[]},"mark":"point","title":{"text":"C","anchor":"start","fontSize":14,"offset":3,"dx":3}},
{"width":155,"height":142,"view":{"stroke":"#9a9a9a"},"title":{"text":"CD56⁺CD16⁻","fontSize":14.5,"offset":1.8},
"encoding":{"x":{"field":"x","type":"quantitative","scale":{"domain":[0,100],"nice":false,"zero":false},"axis":{"values":{"expr":"xt"},"title":null}},"y":{"field":"y","type":"quantitative","scale":{"domain":[0,105],"nice":false},"axis":{"values":{"expr":"yt"},"title":"% maximum","titlePadding":8.5}}},
"layer":[
{"data":{"name":"C1c"},"mark":{"type":"area","color":"#f29e9e","opacity":1,"interpolate":"monotone"}},
{"data":{"name":"C1c"},"mark":{"type":"line","color":"#e8202a","strokeWidth":1.2,"interpolate":"monotone"}},
{"data":{"name":"C1s"},"mark":{"type":"area","color":"#0090d3","opacity":0.45,"interpolate":"monotone"}},
{"data":{"name":"C1s"},"mark":{"type":"line","color":"#29abe2","strokeWidth":1.2,"interpolate":"monotone"}},
{"data":{"name":"C1g"},"mark":{"type":"rule","color":"#333","strokeWidth":1.3},"encoding":{"x2":{"field":"x2"}}},
{"data":{"name":"C1g"},"mark":{"type":"tick","orient":"vertical","color":"#333","size":7,"thickness":1.3,"opacity":1}},
{"data":{"name":"C1g"},"mark":{"type":"tick","orient":"vertical","color":"#333","size":7,"thickness":1.3,"opacity":1},"encoding":{"x":{"field":"x2","type":"quantitative","scale":{"domain":[0,100],"nice":false,"zero":false},"axis":null}}},
{"data":{"name":"C1l"},"mark":{"type":"text","fontSize":15},"encoding":{"text":{"field":"t"}}}
]},
{"width":34,"height":1,"data":{"values":[]},"mark":"point"},
{"width":149,"height":141,"view":{"stroke":"#9a9a9a"},"title":{"text":"CD56⁺CD16⁺","fontSize":14.5,"offset":1.8},
"encoding":{"x":{"field":"x","type":"quantitative","scale":{"domain":[0,100],"nice":false,"zero":false},"axis":{"values":{"expr":"xt"},"title":null}},"y":{"field":"y","type":"quantitative","scale":{"domain":[0,105],"nice":false},"axis":{"values":{"expr":"yt"},"title":null}}},
"layer":[
{"data":{"name":"C2c"},"mark":{"type":"area","color":"#f29e9e","opacity":1,"interpolate":"monotone"}},
{"data":{"name":"C2c"},"mark":{"type":"line","color":"#e8202a","strokeWidth":1.2,"interpolate":"monotone"}},
{"data":{"name":"C2s"},"mark":{"type":"area","color":"#0090d3","opacity":0.45,"interpolate":"monotone"}},
{"data":{"name":"C2s"},"mark":{"type":"line","color":"#29abe2","strokeWidth":1.2,"interpolate":"monotone"}},
{"data":{"name":"C2g"},"mark":{"type":"rule","color":"#333","strokeWidth":1.3},"encoding":{"x2":{"field":"x2"}}},
{"data":{"name":"C2g"},"mark":{"type":"tick","orient":"vertical","color":"#333","size":7,"thickness":1.3,"opacity":1}},
{"data":{"name":"C2g"},"mark":{"type":"tick","orient":"vertical","color":"#333","size":7,"thickness":1.3,"opacity":1},"encoding":{"x":{"field":"x2","type":"quantitative","scale":{"domain":[0,100],"nice":false,"zero":false},"axis":null}}},
{"data":{"name":"C2l"},"mark":{"type":"text","fontSize":15},"encoding":{"text":{"field":"t"}}}
]},
{"width":28,"height":1,"data":{"values":[]},"mark":"point"},
{"width":150,"height":141,"view":{"stroke":"#9a9a9a"},"title":{"text":"CD56⁻CD16⁺","fontSize":14.5,"offset":1.8},
"encoding":{"x":{"field":"x","type":"quantitative","scale":{"domain":[0,100],"nice":false,"zero":false},"axis":{"values":{"expr":"xt"},"title":null}},"y":{"field":"y","type":"quantitative","scale":{"domain":[0,105],"nice":false},"axis":{"values":{"expr":"yt"},"title":null}}},
"layer":[
{"data":{"name":"C3c"},"mark":{"type":"area","color":"#f29e9e","opacity":1,"interpolate":"monotone"}},
{"data":{"name":"C3c"},"mark":{"type":"line","color":"#e8202a","strokeWidth":1.2,"interpolate":"monotone"}},
{"data":{"name":"C3s"},"mark":{"type":"area","color":"#0090d3","opacity":0.45,"interpolate":"monotone"}},
{"data":{"name":"C3s"},"mark":{"type":"line","color":"#29abe2","strokeWidth":1.2,"interpolate":"monotone"}},
{"data":{"name":"C3g"},"mark":{"type":"rule","color":"#333","strokeWidth":1.3},"encoding":{"x2":{"field":"x2"}}},
{"data":{"name":"C3g"},"mark":{"type":"tick","orient":"vertical","color":"#333","size":7,"thickness":1.3,"opacity":1}},
{"data":{"name":"C3g"},"mark":{"type":"tick","orient":"vertical","color":"#333","size":7,"thickness":1.3,"opacity":1},"encoding":{"x":{"field":"x2","type":"quantitative","scale":{"domain":[0,100],"nice":false,"zero":false},"axis":null}}},
{"data":{"name":"C3l"},"mark":{"type":"text","fontSize":15},"encoding":{"text":{"field":"t"}}}
]},
{"width":32,"height":1,"data":{"values":[]},"mark":"point"},
{"width":151,"height":141,"view":{"stroke":"#9a9a9a"},"title":{"text":"CD56⁻CD16⁻","fontSize":14.5,"offset":1.8},
"encoding":{"x":{"field":"x","type":"quantitative","scale":{"domain":[0,100],"nice":false,"zero":false},"axis":{"values":{"expr":"xt"},"title":null}},"y":{"field":"y","type":"quantitative","scale":{"domain":[0,105],"nice":false},"axis":{"values":{"expr":"yt"},"title":null}}},
"layer":[
{"data":{"name":"C4c"},"mark":{"type":"area","color":"#f29e9e","opacity":1,"interpolate":"monotone"}},
{"data":{"name":"C4c"},"mark":{"type":"line","color":"#e8202a","strokeWidth":1.2,"interpolate":"monotone"}},
{"data":{"name":"C4s"},"mark":{"type":"area","color":"#0090d3","opacity":0.45,"interpolate":"monotone"}},
{"data":{"name":"C4s"},"mark":{"type":"line","color":"#29abe2","strokeWidth":1.2,"interpolate":"monotone"}},
{"data":{"name":"C4g"},"mark":{"type":"rule","color":"#333","strokeWidth":1.3},"encoding":{"x2":{"field":"x2"}}},
{"data":{"name":"C4g"},"mark":{"type":"tick","orient":"vertical","color":"#333","size":7,"thickness":1.3,"opacity":1}},
{"data":{"name":"C4g"},"mark":{"type":"tick","orient":"vertical","color":"#333","size":7,"thickness":1.3,"opacity":1},"encoding":{"x":{"field":"x2","type":"quantitative","scale":{"domain":[0,100],"nice":false,"zero":false},"axis":null}}},
{"data":{"name":"C4l"},"mark":{"type":"text","fontSize":15},"encoding":{"text":{"field":"t"}}}
]}
],"spacing":0,"bounds":"flush","resolve":{"scale":{"x":"independent","y":"independent"}}},
{"width":1,"height":142,"data":{"values":[]},"mark":"point"},
{"hconcat":[
{"width":28,"height":1,"data":{"values":[]},"mark":"point"},
{"width":700,"height":23,"data":{"values":[{"t":"IL-2Rβ"}]},
"encoding":{"y":{"datum":0,"type":"quantitative","scale":{"domain":[0,1]},"axis":null}},
"layer":[
{"mark":{"type":"rule","color":"#3a2618","strokeWidth":2.5},"encoding":{"x":{"datum":0,"type":"quantitative","scale":{"domain":[0,100],"nice":false},"axis":null},"x2":{"datum":45.7}}},
{"mark":{"type":"rule","color":"#3a2618","strokeWidth":2.5},"encoding":{"x":{"datum":55.9,"type":"quantitative","scale":{"domain":[0,100],"nice":false},"axis":null},"x2":{"datum":99.1}}},
{"mark":{"type":"point","shape":"triangle-right","filled":true,"color":"#3a2618","size":70,"opacity":1},"encoding":{"x":{"datum":99.4,"type":"quantitative","scale":{"domain":[0,100],"nice":false},"axis":null}}},
{"mark":{"type":"text","fontSize":15},"encoding":{"x":{"datum":50.3,"type":"quantitative","scale":{"domain":[0,100],"nice":false},"axis":null},"text":{"field":"t"}}}
]}
],"spacing":0,"bounds":"flush"},
{"width":1,"height":68,"data":{"values":[]},"mark":"point"},
{"hconcat":[
{"width":44,"height":1,"data":{"values":[]},"mark":"point","title":{"text":"D","anchor":"start","fontSize":14,"offset":4,"dx":3}},
{"width":149,"height":135,"view":{"stroke":"#9a9a9a"},"title":{"text":"NKB cells","fontSize":14.5,"offset":3.8},
"encoding":{"x":{"field":"x","type":"quantitative","scale":{"domain":[0,100],"nice":false,"zero":false},"axis":{"values":{"expr":"xt"},"title":null}},"y":{"field":"y","type":"quantitative","scale":{"domain":[0,105],"nice":false},"axis":{"values":{"expr":"yt"},"title":"% maximum","titlePadding":16.5}}},
"layer":[
{"data":{"name":"D1c"},"mark":{"type":"area","color":"#f29e9e","opacity":1,"interpolate":"monotone"}},
{"data":{"name":"D1c"},"mark":{"type":"line","color":"#e8202a","strokeWidth":1.2,"interpolate":"monotone"}},
{"data":{"name":"D1s"},"mark":{"type":"area","color":"#0090d3","opacity":0.45,"interpolate":"monotone"}},
{"data":{"name":"D1s"},"mark":{"type":"line","color":"#29abe2","strokeWidth":1.2,"interpolate":"monotone"}},
{"data":{"name":"D1g"},"mark":{"type":"rule","color":"#333","strokeWidth":1.3},"encoding":{"x2":{"field":"x2"}}},
{"data":{"name":"D1g"},"mark":{"type":"tick","orient":"vertical","color":"#333","size":7,"thickness":1.3,"opacity":1}},
{"data":{"name":"D1g"},"mark":{"type":"tick","orient":"vertical","color":"#333","size":7,"thickness":1.3,"opacity":1},"encoding":{"x":{"field":"x2","type":"quantitative","scale":{"domain":[0,100],"nice":false,"zero":false},"axis":null}}},
{"data":{"name":"D1l"},"mark":{"type":"text","fontSize":15},"encoding":{"text":{"field":"t"}}}
]},
{"width":36,"height":1,"data":{"values":[]},"mark":"point"},
{"width":144,"height":135,"view":{"stroke":"#9a9a9a"},"title":{"text":"NK cells","fontSize":14.5,"offset":3.8},
"encoding":{"x":{"field":"x","type":"quantitative","scale":{"domain":[0,100],"nice":false,"zero":false},"axis":{"values":{"expr":"xt"},"title":null}},"y":{"field":"y","type":"quantitative","scale":{"domain":[0,105],"nice":false},"axis":{"values":{"expr":"yt"},"title":null}}},
"layer":[
{"data":{"name":"D2c"},"mark":{"type":"area","color":"#f29e9e","opacity":1,"interpolate":"monotone"}},
{"data":{"name":"D2c"},"mark":{"type":"line","color":"#e8202a","strokeWidth":1.2,"interpolate":"monotone"}},
{"data":{"name":"D2s"},"mark":{"type":"area","color":"#0090d3","opacity":0.45,"interpolate":"monotone"}},
{"data":{"name":"D2s"},"mark":{"type":"line","color":"#29abe2","strokeWidth":1.2,"interpolate":"monotone"}},
{"data":{"name":"D2g"},"mark":{"type":"rule","color":"#333","strokeWidth":1.3},"encoding":{"x2":{"field":"x2"}}},
{"data":{"name":"D2g"},"mark":{"type":"tick","orient":"vertical","color":"#333","size":7,"thickness":1.3,"opacity":1}},
{"data":{"name":"D2g"},"mark":{"type":"tick","orient":"vertical","color":"#333","size":7,"thickness":1.3,"opacity":1},"encoding":{"x":{"field":"x2","type":"quantitative","scale":{"domain":[0,100],"nice":false,"zero":false},"axis":null}}},
{"data":{"name":"D2l"},"mark":{"type":"text","fontSize":15},"encoding":{"text":{"field":"t"}}}
]},
{"width":29,"height":1,"data":{"values":[]},"mark":"point"},
{"width":146,"height":136,"view":{"stroke":"#9a9a9a"},"title":{"text":"CD8+ T-cells","fontSize":14.5,"offset":3.8},
"encoding":{"x":{"field":"x","type":"quantitative","scale":{"domain":[0,100],"nice":false,"zero":false},"axis":{"values":{"expr":"xt"},"title":null}},"y":{"field":"y","type":"quantitative","scale":{"domain":[0,105],"nice":false},"axis":{"values":{"expr":"yt"},"title":null}}},
"layer":[
{"data":{"name":"D3c"},"mark":{"type":"area","color":"#f29e9e","opacity":1,"interpolate":"monotone"}},
{"data":{"name":"D3c"},"mark":{"type":"line","color":"#e8202a","strokeWidth":1.2,"interpolate":"monotone"}},
{"data":{"name":"D3s"},"mark":{"type":"area","color":"#0090d3","opacity":0.45,"interpolate":"monotone"}},
{"data":{"name":"D3s"},"mark":{"type":"line","color":"#29abe2","strokeWidth":1.2,"interpolate":"monotone"}},
{"data":{"name":"D3g"},"mark":{"type":"rule","color":"#333","strokeWidth":1.3},"encoding":{"x2":{"field":"x2"}}},
{"data":{"name":"D3g"},"mark":{"type":"tick","orient":"vertical","color":"#333","size":7,"thickness":1.3,"opacity":1}},
{"data":{"name":"D3g"},"mark":{"type":"tick","orient":"vertical","color":"#333","size":7,"thickness":1.3,"opacity":1},"encoding":{"x":{"field":"x2","type":"quantitative","scale":{"domain":[0,100],"nice":false,"zero":false},"axis":null}}},
{"data":{"name":"D3l"},"mark":{"type":"text","fontSize":15},"encoding":{"text":{"field":"t"}}}
]},
{"width":52,"height":1,"data":{"values":[]},"mark":"point"},
{"width":145,"height":139,"view":{"stroke":"#9a9a9a"},"title":{"text":"B cells","fontSize":14.5,"offset":4.8},
"encoding":{"x":{"field":"x","type":"quantitative","scale":{"domain":[0,100],"nice":false,"zero":false},"axis":{"values":{"expr":"xt"},"title":"IL-7R","titleFontSize":14,"titlePadding":7}},"y":{"field":"y","type":"quantitative","scale":{"domain":[0,105],"nice":false},"axis":{"values":{"expr":"yt"},"title":"% maximum","titlePadding":6.5}}},
"layer":[
{"data":{"name":"D4c"},"mark":{"type":"area","color":"#f29e9e","opacity":1,"interpolate":"monotone"}},
{"data":{"name":"D4c"},"mark":{"type":"line","color":"#e8202a","strokeWidth":1.2,"interpolate":"monotone"}},
{"data":{"name":"D4s"},"mark":{"type":"area","color":"#0090d3","opacity":0.45,"interpolate":"monotone"}},
{"data":{"name":"D4s"},"mark":{"type":"line","color":"#29abe2","strokeWidth":1.2,"interpolate":"monotone"}}
]}
],"spacing":0,"bounds":"flush","resolve":{"scale":{"x":"independent","y":"independent"}}},
{"width":1,"height":139,"data":{"values":[]},"mark":"point"},
{"hconcat":[
{"width":35,"height":1,"data":{"values":[]},"mark":"point"},
{"width":513,"height":20,"data":{"values":[{"t":"IL-7R"}]},
"encoding":{"y":{"datum":0,"type":"quantitative","scale":{"domain":[0,1]},"axis":null}},
"layer":[
{"mark":{"type":"rule","color":"#3a2618","strokeWidth":2.5},"encoding":{"x":{"datum":0,"type":"quantitative","scale":{"domain":[0,100],"nice":false},"axis":null},"x2":{"datum":44.2}}},
{"mark":{"type":"rule","color":"#3a2618","strokeWidth":2.5},"encoding":{"x":{"datum":58.5,"type":"quantitative","scale":{"domain":[0,100],"nice":false},"axis":null},"x2":{"datum":98.8}}},
{"mark":{"type":"point","shape":"triangle-right","filled":true,"color":"#3a2618","size":70,"opacity":1},"encoding":{"x":{"datum":99.2,"type":"quantitative","scale":{"domain":[0,100],"nice":false},"axis":null}}},
{"mark":{"type":"text","fontSize":14.5},"encoding":{"x":{"datum":51.7,"type":"quantitative","scale":{"domain":[0,100],"nice":false},"axis":null},"text":{"field":"t"}}}
]}
],"spacing":0,"bounds":"flush"},
{"width":1,"height":65,"data":{"values":[]},"mark":"point"},
{"hconcat":[
{"width":32,"height":1,"data":{"values":[]},"mark":"point","title":{"text":"E","anchor":"start","fontSize":14,"offset":9,"dx":3}},
{"width":150,"height":142,"view":{"stroke":"#9a9a9a"},"title":{"text":"CD56⁺CD16⁻","fontSize":14.5,"offset":7.8},
"encoding":{"x":{"field":"x","type":"quantitative","scale":{"domain":[0,100],"nice":false,"zero":false},"axis":{"values":{"expr":"xt"},"title":null}},"y":{"field":"y","type":"quantitative","scale":{"domain":[0,105],"nice":false},"axis":{"values":{"expr":"yt"},"title":"% maximum","titlePadding":9.5}}},
"layer":[
{"data":{"name":"E1c"},"mark":{"type":"area","color":"#f29e9e","opacity":1,"interpolate":"monotone"}},
{"data":{"name":"E1c"},"mark":{"type":"line","color":"#e8202a","strokeWidth":1.2,"interpolate":"monotone"}},
{"data":{"name":"E1s"},"mark":{"type":"area","color":"#0090d3","opacity":0.45,"interpolate":"monotone"}},
{"data":{"name":"E1s"},"mark":{"type":"line","color":"#29abe2","strokeWidth":1.2,"interpolate":"monotone"}},
{"data":{"name":"E1g"},"mark":{"type":"rule","color":"#333","strokeWidth":1.3},"encoding":{"x2":{"field":"x2"}}},
{"data":{"name":"E1g"},"mark":{"type":"tick","orient":"vertical","color":"#333","size":7,"thickness":1.3,"opacity":1}},
{"data":{"name":"E1g"},"mark":{"type":"tick","orient":"vertical","color":"#333","size":7,"thickness":1.3,"opacity":1},"encoding":{"x":{"field":"x2","type":"quantitative","scale":{"domain":[0,100],"nice":false,"zero":false},"axis":null}}},
{"data":{"name":"E1l"},"mark":{"type":"text","fontSize":15},"encoding":{"text":{"field":"t"}}}
]},
{"width":30,"height":1,"data":{"values":[]},"mark":"point"},
{"width":141,"height":143,"view":{"stroke":"#9a9a9a"},"title":{"text":"CD56⁺CD16⁺","fontSize":14.5,"offset":7.8},
"encoding":{"x":{"field":"x","type":"quantitative","scale":{"domain":[0,100],"nice":false,"zero":false},"axis":{"values":{"expr":"xt"},"title":null}},"y":{"field":"y","type":"quantitative","scale":{"domain":[0,105],"nice":false},"axis":{"values":{"expr":"yt"},"title":null}}},
"layer":[
{"data":{"name":"E2c"},"mark":{"type":"area","color":"#f29e9e","opacity":1,"interpolate":"monotone"}},
{"data":{"name":"E2c"},"mark":{"type":"line","color":"#e8202a","strokeWidth":1.2,"interpolate":"monotone"}},
{"data":{"name":"E2s"},"mark":{"type":"area","color":"#0090d3","opacity":0.45,"interpolate":"monotone"}},
{"data":{"name":"E2s"},"mark":{"type":"line","color":"#29abe2","strokeWidth":1.2,"interpolate":"monotone"}},
{"data":{"name":"E2g"},"mark":{"type":"rule","color":"#333","strokeWidth":1.3},"encoding":{"x2":{"field":"x2"}}},
{"data":{"name":"E2g"},"mark":{"type":"tick","orient":"vertical","color":"#333","size":7,"thickness":1.3,"opacity":1}},
{"data":{"name":"E2g"},"mark":{"type":"tick","orient":"vertical","color":"#333","size":7,"thickness":1.3,"opacity":1},"encoding":{"x":{"field":"x2","type":"quantitative","scale":{"domain":[0,100],"nice":false,"zero":false},"axis":null}}},
{"data":{"name":"E2l"},"mark":{"type":"text","fontSize":15},"encoding":{"text":{"field":"t"}}}
]},
{"width":27,"height":1,"data":{"values":[]},"mark":"point"},
{"width":145,"height":144,"view":{"stroke":"#9a9a9a"},"title":{"text":"CD56⁻CD16⁺","fontSize":14.5,"offset":7.8},
"encoding":{"x":{"field":"x","type":"quantitative","scale":{"domain":[0,100],"nice":false,"zero":false},"axis":{"values":{"expr":"xt"},"title":null}},"y":{"field":"y","type":"quantitative","scale":{"domain":[0,105],"nice":false},"axis":{"values":{"expr":"yt"},"title":null}}},
"layer":[
{"data":{"name":"E3c"},"mark":{"type":"area","color":"#f29e9e","opacity":1,"interpolate":"monotone"}},
{"data":{"name":"E3c"},"mark":{"type":"line","color":"#e8202a","strokeWidth":1.2,"interpolate":"monotone"}},
{"data":{"name":"E3s"},"mark":{"type":"area","color":"#0090d3","opacity":0.45,"interpolate":"monotone"}},
{"data":{"name":"E3s"},"mark":{"type":"line","color":"#29abe2","strokeWidth":1.2,"interpolate":"monotone"}},
{"data":{"name":"E3g"},"mark":{"type":"rule","color":"#333","strokeWidth":1.3},"encoding":{"x2":{"field":"x2"}}},
{"data":{"name":"E3g"},"mark":{"type":"tick","orient":"vertical","color":"#333","size":7,"thickness":1.3,"opacity":1}},
{"data":{"name":"E3g"},"mark":{"type":"tick","orient":"vertical","color":"#333","size":7,"thickness":1.3,"opacity":1},"encoding":{"x":{"field":"x2","type":"quantitative","scale":{"domain":[0,100],"nice":false,"zero":false},"axis":null}}},
{"data":{"name":"E3l"},"mark":{"type":"text","fontSize":15},"encoding":{"text":{"field":"t"}}}
]},
{"width":30,"height":1,"data":{"values":[]},"mark":"point"},
{"width":158,"height":142,"view":{"stroke":"#9a9a9a"},"title":{"text":"CD56⁻CD16⁻","fontSize":14.5,"offset":7.8},
"encoding":{"x":{"field":"x","type":"quantitative","scale":{"domain":[0,100],"nice":false,"zero":false},"axis":{"values":{"expr":"xt"},"title":null}},"y":{"field":"y","type":"quantitative","scale":{"domain":[0,105],"nice":false},"axis":{"values":{"expr":"yt"},"title":null}}},
"layer":[
{"data":{"name":"E4c"},"mark":{"type":"area","color":"#f29e9e","opacity":1,"interpolate":"monotone"}},
{"data":{"name":"E4c"},"mark":{"type":"line","color":"#e8202a","strokeWidth":1.2,"interpolate":"monotone"}},
{"data":{"name":"E4s"},"mark":{"type":"area","color":"#0090d3","opacity":0.45,"interpolate":"monotone"}},
{"data":{"name":"E4s"},"mark":{"type":"line","color":"#29abe2","strokeWidth":1.2,"interpolate":"monotone"}},
{"data":{"name":"E4g"},"mark":{"type":"rule","color":"#333","strokeWidth":1.3},"encoding":{"x2":{"field":"x2"}}},
{"data":{"name":"E4g"},"mark":{"type":"tick","orient":"vertical","color":"#333","size":7,"thickness":1.3,"opacity":1}},
{"data":{"name":"E4g"},"mark":{"type":"tick","orient":"vertical","color":"#333","size":7,"thickness":1.3,"opacity":1},"encoding":{"x":{"field":"x2","type":"quantitative","scale":{"domain":[0,100],"nice":false,"zero":false},"axis":null}}},
{"data":{"name":"E4l"},"mark":{"type":"text","fontSize":15},"encoding":{"text":{"field":"t"}}}
]}
],"spacing":0,"bounds":"flush","resolve":{"scale":{"x":"independent","y":"independent"}}},
{"width":1,"height":144,"data":{"values":[]},"mark":"point"},
{"hconcat":[
{"width":27,"height":1,"data":{"values":[]},"mark":"point"},
{"width":688,"height":24,"data":{"values":[{"t":"IL-7R"}]},
"encoding":{"y":{"datum":0,"type":"quantitative","scale":{"domain":[0,1]},"axis":null}},
"layer":[
{"mark":{"type":"rule","color":"#3a2618","strokeWidth":2.5},"encoding":{"x":{"datum":0,"type":"quantitative","scale":{"domain":[0,100],"nice":false},"axis":null},"x2":{"datum":44}}},
{"mark":{"type":"rule","color":"#3a2618","strokeWidth":2.5},"encoding":{"x":{"datum":55.2,"type":"quantitative","scale":{"domain":[0,100],"nice":false},"axis":null},"x2":{"datum":99.1}}},
{"mark":{"type":"point","shape":"triangle-right","filled":true,"color":"#3a2618","size":70,"opacity":1},"encoding":{"x":{"datum":99.4,"type":"quantitative","scale":{"domain":[0,100],"nice":false},"axis":null}}},
{"mark":{"type":"text","fontSize":14},"encoding":{"x":{"datum":49.6,"type":"quantitative","scale":{"domain":[0,100],"nice":false},"axis":null},"text":{"field":"t"}}}
]}
],"spacing":0,"bounds":"flush"}
]
}
